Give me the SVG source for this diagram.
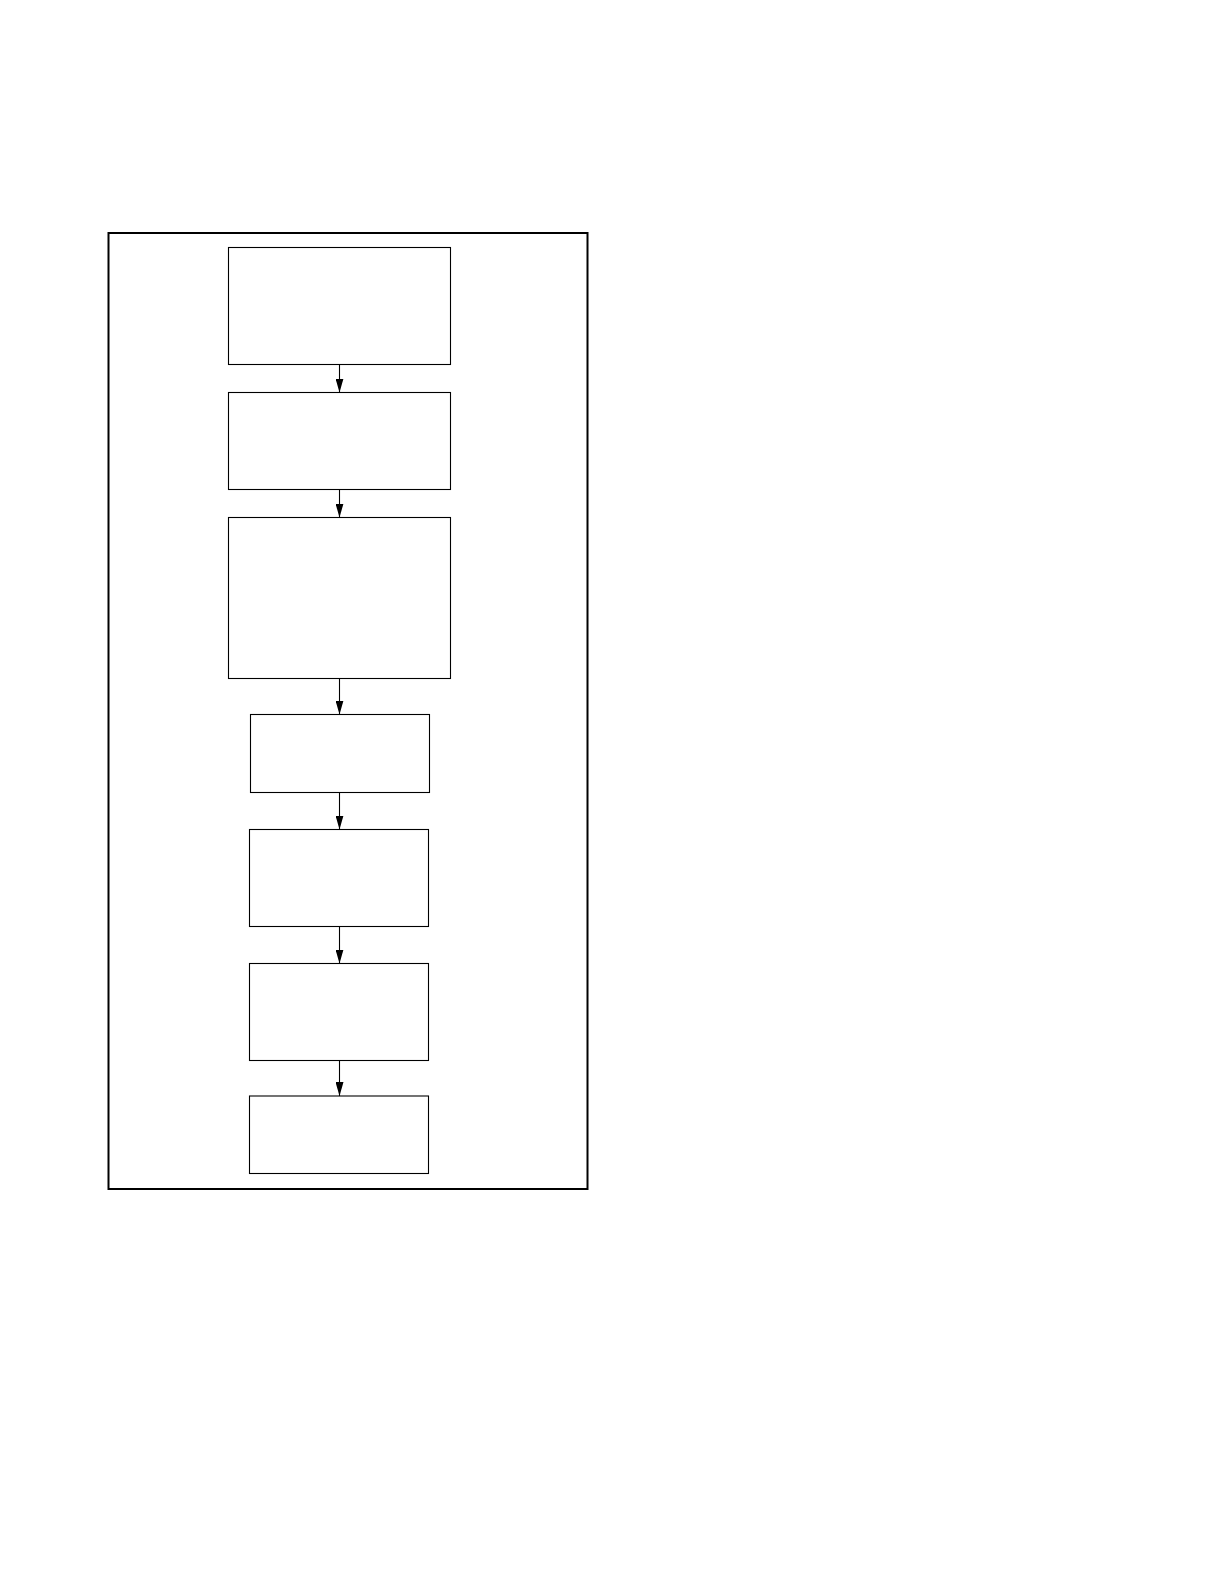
<svg xmlns="http://www.w3.org/2000/svg" width="1224" height="1584" viewBox="0 0 1224 1584">
  <style>
    .frame { fill: none; stroke: #000; stroke-width: 2; }
    .box { fill: #fff; stroke: #000; stroke-width: 1.1; }
    .edge { fill: none; stroke: #000; stroke-width: 1.1; }
  </style>
  <defs>
    <marker id="arrow" viewBox="0 0 14 8" refX="14" refY="4" markerWidth="14" markerHeight="8" markerUnits="userSpaceOnUse" orient="auto">
      <path d="M0,0 L14,4 L0,8 Z" fill="#000"/>
    </marker>
  </defs>
  <rect width="1224" height="1584" fill="#fff"/>
  <rect id="frame" class="frame" x="108.5" y="233" width="479" height="956"/>
  <g id="nodes">
    <g id="n1"><rect class="box" x="228.5" y="247.5" width="222" height="117"/></g>
    <g id="n2"><rect class="box" x="228.5" y="392.5" width="222" height="97"/></g>
    <g id="n3"><rect class="box" x="228.5" y="517.5" width="222" height="161"/></g>
    <g id="n4"><rect class="box" x="250.5" y="714.5" width="179" height="78"/></g>
    <g id="n5"><rect class="box" x="249.5" y="829.5" width="179" height="97"/></g>
    <g id="n6"><rect class="box" x="249.5" y="963.5" width="179" height="97"/></g>
    <g id="n7"><rect class="box" x="249.5" y="1096" width="179" height="77.5"/></g>
  </g>
  <g id="connectors">
    <line class="edge" x1="339.5" y1="364.5" x2="339.5" y2="392.5" marker-end="url(#arrow)"/>
    <line class="edge" x1="339.5" y1="489.5" x2="339.5" y2="517.5" marker-end="url(#arrow)"/>
    <line class="edge" x1="339.5" y1="678.5" x2="339.5" y2="714.5" marker-end="url(#arrow)"/>
    <line class="edge" x1="339.5" y1="792.5" x2="339.5" y2="829.5" marker-end="url(#arrow)"/>
    <line class="edge" x1="339.5" y1="926.5" x2="339.5" y2="963.5" marker-end="url(#arrow)"/>
    <line class="edge" x1="339.5" y1="1060.5" x2="339.5" y2="1096" marker-end="url(#arrow)"/>
  </g>
</svg>
